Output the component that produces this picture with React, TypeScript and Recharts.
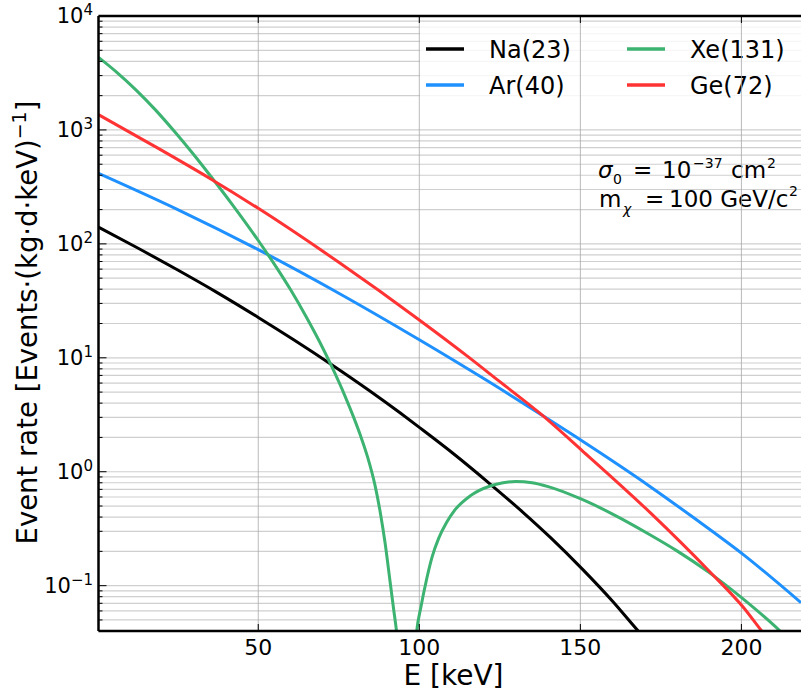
import { CartesianGrid, Customized, Line, LineChart, ReferenceLine, XAxis, YAxis } from 'recharts';

const FONT = '"DejaVu Sans", sans-serif';
const PLOT_LEFT = 98.5;
const PLOT_TOP = 16;
const PLOT_BOTTOM = 631;

// Na(23)
const naEnergy = [0.4, 12, 25, 37, 50, 61, 72.8, 84, 94, 100, 111, 122, 132, 141, 150.7, 160, 168.3, 172];
const naRate = [140, 93.8, 58.9, 37.7, 22.6, 14.4, 8.7, 5.27, 3.29, 2.45, 1.41, 0.78, 0.445, 0.26, 0.139, 0.073, 0.039, 0.03];

// Ar(40)
const arEnergy = [0.4, 25, 50, 75, 100, 121, 137.5, 150.7, 171.6, 185, 200.9, 218.5];
const arRate = [416, 200, 89, 36.9, 14.4, 6.31, 3.21, 1.85, 0.743, 0.398, 0.1845, 0.071];

// Xe(131)
const xeEnergy = [
  0.4, 6, 12, 18, 24, 30, 35, 42, 50, 56, 60, 65, 69, 72.8, 77, 81.6, 84, 86.2, 88, 89.3, 90.9, 92, 93, 94, 96, 98,
  99.2, 100.5, 102.3, 104, 106, 108.5, 111, 116, 122, 126, 130, 135, 140, 150, 160, 171.6, 180, 189.8, 200.9, 212, 215,
];
const xeRate = [
  4340, 3221, 2249, 1507, 968, 605, 400, 220, 107, 60, 39.7, 22.6, 13.9, 8.4, 4.57, 2.13, 1.33, 0.77, 0.42, 0.245,
  0.11, 0.063, 0.038, 0.018, 0.001, 0.015, 0.04, 0.065, 0.115, 0.18, 0.26, 0.36, 0.46, 0.62, 0.75, 0.8, 0.82, 0.8,
  0.74, 0.58, 0.425, 0.28, 0.202, 0.1315, 0.075, 0.04, 0.033,
];

// Ge(72)
const geEnergy = [0.4, 18, 35, 50, 75, 100, 115, 125, 137.5, 150.7, 171.6, 189.8, 200.9, 206.3, 210];
const geRate = [1360, 714, 375, 205, 68.9, 21.5, 10.3, 6.17, 3.25, 1.52, 0.44, 0.136, 0.063, 0.04, 0.03];

const xTicks = [50, 100, 150, 200];
const yMajor = [0.1, 1, 10, 100, 1000, 10000];
const yExponent = ['−1', '0', '1', '2', '3', '4'];

const yTicks: number[] = [];
for (let d = -2; d <= 3; d += 1) {
  for (let m = 1; m <= 9; m += 1) {
    const v = m * Math.pow(10, d);
    if (v >= 0.04 && v <= 10000) yTicks.push(v);
  }
}
yTicks.push(10000);

const toRows = (energy: number[], rate: number[]) => energy.map((E, i) => ({ E, rate: rate[i] }));

const series = [
  { name: 'Na(23)', color: '#000000', rows: toRows(naEnergy, naRate) },
  { name: 'Ar(40)', color: '#1e90ff', rows: toRows(arEnergy, arRate) },
  { name: 'Xe(131)', color: '#3cb371', rows: toRows(xeEnergy, xeRate) },
  { name: 'Ge(72)', color: '#ff3333', rows: toRows(geEnergy, geRate) },
];

const majorIndex = (v: number) => yMajor.findIndex((m) => Math.abs(m - v) / m < 1e-6);

const YTick = (props: any) => {
  const { y, payload } = props;
  const i = majorIndex(payload.value);
  const major = i >= 0;
  return (
    <g>
      <line x1={PLOT_LEFT} x2={PLOT_LEFT + (major ? 8 : 4)} y1={y} y2={y} stroke="#000" strokeWidth={1} />
      {major && (
        <text x={93} y={y + 7} textAnchor="end" fontSize={21} fontFamily={FONT} fill="#000">
          10
          <tspan dy={-8} fontSize={15}>
            {yExponent[i]}
          </tspan>
        </text>
      )}
    </g>
  );
};

const XTick = (props: any) => {
  const { x, payload } = props;
  return (
    <g>
      <line x1={x} x2={x} y1={PLOT_BOTTOM} y2={PLOT_BOTTOM - 7} stroke="#000" strokeWidth={1} />
      <line x1={x} x2={x} y1={PLOT_TOP} y2={PLOT_TOP + 7} stroke="#000" strokeWidth={1} />
      <text x={x} y={655} textAnchor="middle" fontSize={22} fontFamily={FONT} fill="#000">
        {payload.value}
      </text>
    </g>
  );
};

const Overlay = () => (
  <g fontFamily={FONT} fill="#000">
    <rect x={420} y={26} width={390} height={84} fill="#ffffff" fillOpacity={0.8} />
    {[
      { s: series[0], x: 426, y: 49 },
      { s: series[1], x: 426, y: 85 },
      { s: series[2], x: 627, y: 49 },
      { s: series[3], x: 627, y: 85 },
    ].map(({ s, x, y }) => (
      <g key={s.name}>
        <line x1={x} x2={x + 38} y1={y} y2={y} stroke={s.color} strokeWidth={3.5} />
        <text x={x + 63} y={y + 9} fontSize={24}>
          {s.name}
        </text>
      </g>
    ))}

    <text x={598} y={178} fontSize={23} fontStyle="italic">σ</text>
    <text x={613} y={184} fontSize={14}>0</text>
    <text x={633} y={178} fontSize={23}>=</text>
    <text x={662} y={178} fontSize={23}>10</text>
    <text x={693} y={168} fontSize={14}>−37</text>
    <text x={731} y={178} fontSize={23}>cm</text>
    <text x={767} y={168} fontSize={14}>2</text>

    <text x={599} y={207} fontSize={23}>m</text>
    <text x={623} y={214} fontSize={14} fontStyle="italic">χ</text>
    <text x={645} y={207} fontSize={23}>=</text>
    <text x={669} y={207} fontSize={23}>100 GeV/c</text>
    <text x={789} y={196} fontSize={14}>2</text>

    <text x={453.5} y={685} textAnchor="middle" fontSize={28}>
      E [keV]
    </text>
    <text x={36.5} y={322.5} textAnchor="middle" fontSize={27.5} transform="rotate(-90, 36.5, 322.5)">
      Event rate [Events·(kg·d·keV)
      <tspan dy={-11} fontSize={19}>
        −1
      </tspan>
      <tspan dy={11}>]</tspan>
    </text>
  </g>
);

export default function App() {
  return (
    <div style={{ position: 'absolute', left: 0, top: 0, background: '#fff' }}>
      <LineChart width={801} height={697} margin={{ top: PLOT_TOP, right: 0, bottom: 0, left: 0 }}>
        <CartesianGrid vertical={false} stroke="#cfcfcf" strokeWidth={1.2} />
        {xTicks.map((t) => (
          <ReferenceLine key={t} x={t} stroke="#a8a8a8" strokeWidth={0.8} />
        ))}
        <XAxis
          dataKey="E"
          type="number"
          domain={[0.4, 218.5]}
          allowDataOverflow
          ticks={xTicks}
          interval={0}
          height={66}
          tickLine={false}
          tickSize={0}
          tickMargin={0}
          axisLine={{ stroke: '#000', strokeWidth: 2.5 }}
          tick={<XTick />}
        />
        <YAxis
          type="number"
          scale="log"
          domain={[0.04, 10000]}
          allowDataOverflow
          ticks={yTicks}
          interval={0}
          width={PLOT_LEFT}
          tickLine={false}
          tickSize={0}
          tickMargin={0}
          axisLine={{ stroke: '#000', strokeWidth: 2.5 }}
          tick={<YTick />}
        />
        <ReferenceLine y={10000} stroke="#000" strokeWidth={2.5} />
        {series.map((s) => (
          <Line
            key={s.name}
            data={s.rows}
            dataKey="rate"
            type="monotone"
            stroke={s.color}
            strokeWidth={3}
            dot={false}
            isAnimationActive={false}
          />
        ))}
        <Customized component={Overlay} />
      </LineChart>
    </div>
  );
}
